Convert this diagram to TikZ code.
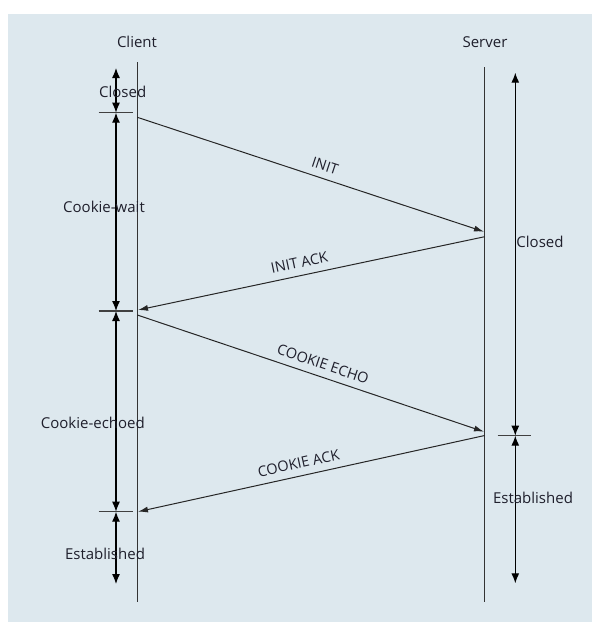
\documentclass[tikz,border=0pt]{standalone}
\usepackage{fontspec}
\setmainfont{Open Sans}
\usetikzlibrary{arrows.meta}
\definecolor{panel}{HTML}{DDE8EE}
\definecolor{ink}{HTML}{1F1F2C}
\definecolor{lifeline}{HTML}{333333}
\tikzset{
  lbl/.style={text=ink, inner sep=0pt, font=\fontsize{15}{18}\selectfont},
  life/.style={draw=lifeline, line width=1.2pt},
  msg/.style={draw=black!85, line width=1pt, -{Latex[length=10pt,width=6pt]}},
  msglbl/.style={lbl, sloped, above=7pt, font=\fontsize{14.5}{17}\selectfont},
  span/.style={draw=black, line width=1.2pt, {Latex[length=10pt,width=8pt]}-{Latex[length=10pt,width=8pt]}},
  tick/.style={draw=black!75, line width=1.2pt}
}
\begin{document}
\begin{tikzpicture}[x=1pt,y=-1pt]
\useasboundingbox (0,0) rectangle (592,622);
\fill[white] (0,0) rectangle (592,622);
\fill[panel] (8,14) rectangle (592,622);
% headers
\node[lbl] (client) at (137,42) {Client};
\node[lbl] (server) at (485,42) {Server};
% lifelines
\coordinate (ctop) at (137.3,62);
\coordinate (cbot) at (137.3,602);
\coordinate (stop) at (484.7,67);
\coordinate (sbot) at (484.7,602);
\draw[life] (ctop) -- (cbot);
\draw[life] (stop) -- (sbot);
% message endpoints
\coordinate (c1) at (137.3,117.3);
\coordinate (s1) at (484,231.7);
\coordinate (s2) at (484.7,236.7);
\coordinate (c2) at (138,310);
\coordinate (c3) at (137.3,315);
\coordinate (s3) at (484,431.7);
\coordinate (s4) at (484.7,435.5);
\coordinate (c4) at (138,511.7);
\draw[msg] (c1) -- node[msglbl, pos=0.53] {INIT} (s1);
\draw[msg] (s2) -- node[msglbl, pos=0.527] {INIT ACK} (c2);
\draw[msg] (c3) -- node[msglbl, pos=0.524] {COOKIE ECHO} (s3);
\draw[msg] (s4) -- node[msglbl, pos=0.529] {COOKIE ACK} (c4);
% client state spans
\coordinate (ca0) at (116,68);
\coordinate (ca1) at (116,112.7);
\coordinate (ca2) at (116,311);
\coordinate (ca3) at (116,511.7);
\coordinate (ca4) at (116,584);
\draw[span] (ca0) -- (ca1);
\draw[span] (ca1) -- (ca2);
\draw[span] (ca2) -- (ca3);
\draw[span] (ca3) -- (ca4);
\coordinate (t1l) at (98.7,112.7); \coordinate (t1r) at (132.7,112.7);
\coordinate (t2l) at (98.7,311);   \coordinate (t2r) at (132.7,311);
\coordinate (t3l) at (98.7,511.7); \coordinate (t3r) at (132.7,511.7);
\draw[tick] (t1l) -- (t1r);
\draw[tick] (t2l) -- (t2r);
\draw[tick] (t3l) -- (t3r);
% server state spans
\coordinate (sa0) at (515.3,72.7);
\coordinate (sa1) at (515.3,435.7);
\coordinate (sa2) at (515.3,583.3);
\draw[span] (sa0) -- (sa1);
\draw[span] (sa1) -- (sa2);
\coordinate (t4l) at (497.7,435.7); \coordinate (t4r) at (531.3,435.7);
\draw[tick] (t4l) -- (t4r);
% state labels
\node[lbl] (cclosed) at (122.7,91.7) {Closed};
\node[lbl] (cwait) at (104,207) {Cookie-wait};
\node[lbl] (cecho) at (92.8,423.3) {Cookie-echoed};
\node[lbl] (cest) at (105,554) {Established};
\node[lbl] (sclosed) at (540,241.7) {Closed};
\node[lbl] (sest) at (533,498.3) {Established};
\end{tikzpicture}
\end{document}
